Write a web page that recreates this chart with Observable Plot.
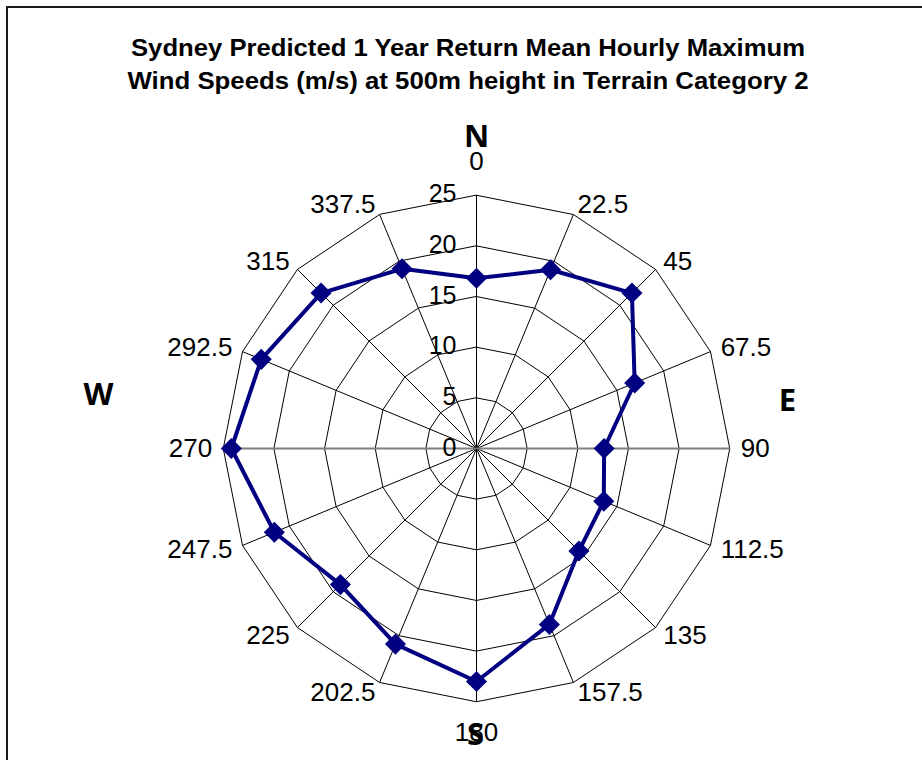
<!DOCTYPE html>
<html>
<head>
<meta charset="utf-8">
<script src="https://cdn.jsdelivr.net/npm/d3@7"></script>
<script src="https://cdn.jsdelivr.net/npm/@observablehq/plot@0.6"></script>
<style>
  html, body { margin: 0; padding: 0; background: #fff; }
  #wrap { position: relative; width: 922px; height: 760px; overflow: hidden; background: #fff; }
  #frame { position: absolute; left: 6px; top: 6px; width: 2000px; height: 2000px; border: 2px solid #1a1a1a; box-sizing: border-box; }
  #title { position: absolute; left: 0; top: 0; }
  #chart { position: absolute; left: 0; top: 100px; }
</style>
</head>
<body>
<div id="wrap">
  <div id="frame"></div>
  <div id="title"></div>
  <div id="chart"></div>
</div>
<script>
// ---- data ----
const titleLines = [
  "Sydney Predicted 1 Year Return Mean Hourly Maximum",
  "Wind Speeds (m/s) at 500m height in Terrain Category 2"
];
const directions = [0, 22.5, 45, 67.5, 90, 112.5, 135, 157.5, 180, 202.5, 225, 247.5, 270, 292.5, 315, 337.5];
const directionLabels = ["0", "22.5", "45", "67.5", "90", "112.5", "135", "157.5", "180", "202.5", "225", "247.5", "270", "292.5", "315", "337.5"];
const speeds = [16.8, 19.1, 21.7, 16.9, 12.6, 13.6, 14.3, 18.8, 23.0, 20.9, 19.0, 21.6, 24.2, 23.0, 21.7, 19.2];
const ringValues = [5, 10, 15, 20, 25];
const axisTicks = [0, 5, 10, 15, 20, 25];
const compassLetters = ["N", "E", "S", "W"];

// ---- layout ----
const W = 922, H = 660;
const k = 10.13;          // pixels per m/s
const cx = 476, cy = 348; // centre in svg pixels
const rMax = 25;
const rad = d => d * Math.PI / 180;
const pol = (r, deg) => ({x: r * Math.sin(rad(deg)), y: r * Math.cos(rad(deg))});

// title
const tsvg = d3.select("#title").append("svg").attr("width", W).attr("height", 100);
const tlen = [674, 681];
titleLines.forEach((t, i) => {
  tsvg.append("text")
    .attr("x", 468).attr("y", 47 + i * 33)
    .attr("text-anchor", "middle").attr("dominant-baseline", "central")
    .attr("font-family", "Liberation Sans, Arial, sans-serif")
    .attr("font-weight", "bold").attr("font-size", 24)
    .attr("textLength", tlen[i]).attr("lengthAdjust", "spacingAndGlyphs")
    .text(t);
});

// derived tables
const rings = ringValues.flatMap(v => directions.map(d => ({ring: v, ...pol(v, d)})));
const spokes = directions.map(d => ({deg: d, x1: 0, y1: 0, x2: pol(rMax, d).x, y2: pol(rMax, d).y}));
const series = directions.map((d, i) => ({deg: d, v: speeds[i], ...pol(speeds[i], d)}));
const labels = directions.map((d, i) => {
  const off = d === 0 ? 34 : d === 180 ? 31 : 11;
  return {deg: d, text: directionLabels[i], ...pol(rMax + off / k, d)};
});
const compassOffsets = {N: [0, -311], E: [311, -47], S: [-1, 287], W: [-378, -53]};
const compass = compassLetters.map(c => ({text: c, x: compassOffsets[c][0] / k, y: -compassOffsets[c][1] / k}));

const font = "Liberation Sans, Arial, sans-serif";
const plot = Plot.plot({
  width: W, height: H,
  margin: 0,
  x: {domain: [-cx / k, (W - cx) / k], axis: null},
  y: {domain: [-(H - cy) / k, cy / k], axis: null},
  style: {fontFamily: font, background: "transparent"},
  marks: [
    Plot.line(rings, {x: "x", y: "y", z: "ring", curve: "linear-closed", stroke: "#000", strokeWidth: 1}),
    Plot.link(spokes.filter(s => s.deg % 180 !== 90), {x1: "x1", y1: "y1", x2: "x2", y2: "y2", stroke: "#000", strokeWidth: 1}),
    Plot.link(spokes.filter(s => s.deg % 180 === 90), {x1: "x1", y1: "y1", x2: "x2", y2: "y2", stroke: "#7f7f7f", strokeWidth: 2}),
    Plot.line(series, {x: "x", y: "y", curve: "linear-closed", stroke: "#000080", strokeWidth: 4, strokeLinejoin: "round"}),
    Plot.dot(series, {x: "x", y: "y", symbol: "diamond2", r: 9.5, fill: "#000080", stroke: "none"}),
    Plot.text(axisTicks, {x: 0, y: d => d, text: d => String(d), textAnchor: "end", dx: -20, dy: -1, fontSize: 25, fill: "#000"}),
    Plot.text(labels.filter(l => l.deg > 0 && l.deg < 180), {x: "x", y: "y", text: "text", textAnchor: "start", fontSize: 26, fill: "#000"}),
    Plot.text(labels.filter(l => l.deg > 180), {x: "x", y: "y", text: "text", textAnchor: "end", fontSize: 26, fill: "#000"}),
    Plot.text(labels.filter(l => l.deg === 0 || l.deg === 180), {x: "x", y: "y", text: "text", textAnchor: "middle", fontSize: 26, fill: "#000"}),
    Plot.text(compass, {x: "x", y: "y", text: "text", fontSize: 31, fontWeight: "bold", fontFamily: "Open Sans, sans-serif", fill: "#000"})
  ]
});
document.getElementById("chart").appendChild(plot);
</script>
</body>
</html>
